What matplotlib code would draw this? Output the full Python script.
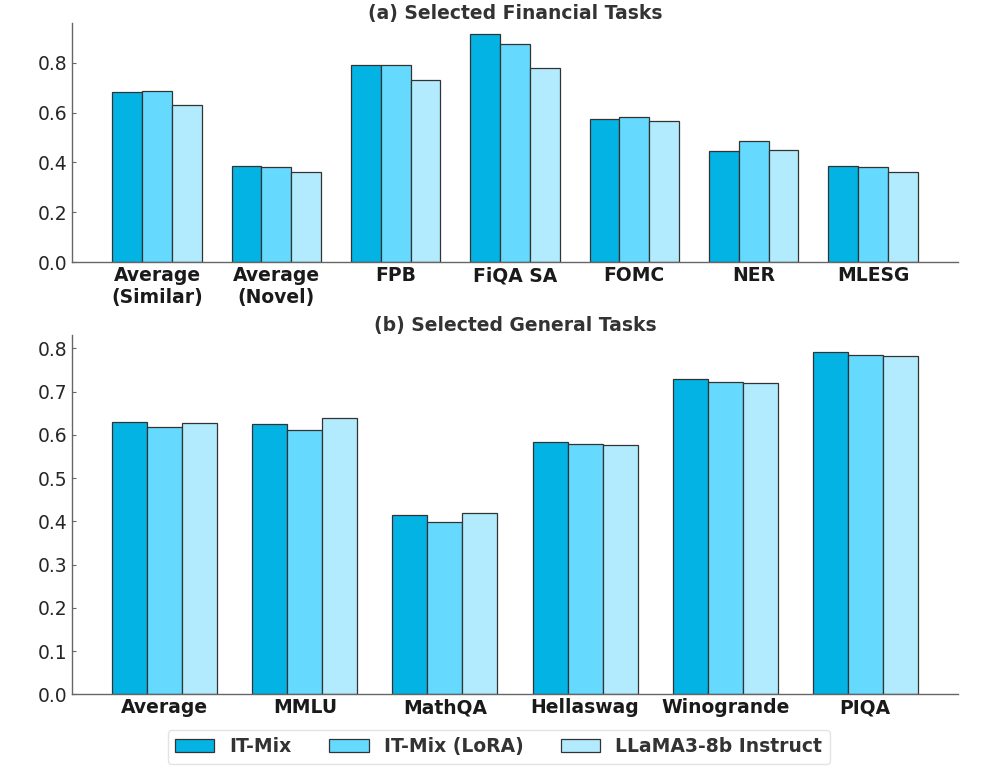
import matplotlib
matplotlib.use("Agg")
import matplotlib.pyplot as plt
import numpy as np

fin_tasks = ["Average\n(Similar)", "Average\n(Novel)", "FPB", "FiQA SA", "FOMC", "NER", "MLESG"]
fin_itmix = [0.682, 0.386, 0.792, 0.914, 0.575, 0.445, 0.386]
fin_lora = [0.686, 0.381, 0.792, 0.876, 0.583, 0.485, 0.381]
fin_llama = [0.630, 0.363, 0.730, 0.778, 0.565, 0.449, 0.363]

gen_tasks = ["Average", "MMLU", "MathQA", "Hellaswag", "Winogrande", "PIQA"]
gen_itmix = [0.629, 0.626, 0.414, 0.583, 0.728, 0.791]
gen_lora = [0.619, 0.612, 0.398, 0.578, 0.721, 0.785]
gen_llama = [0.628, 0.639, 0.420, 0.576, 0.719, 0.783]

labels = ["IT-Mix", "IT-Mix (LoRA)", "LLaMA3-8b Instruct"]
colors = ["#02B3E4", "#66D9FE", "#B3EBFE"]

fig = plt.figure(figsize=(9.97, 7.7), dpi=100)
ax1 = fig.add_axes([0.0722, 0.6597, 0.8887, 0.3104])
ax2 = fig.add_axes([0.0722, 0.0983, 0.8887, 0.4666])

w = 0.25


def draw(ax, tasks, series, title, yticks):
    x = np.arange(len(tasks))
    bars = []
    for i, vals in enumerate(series):
        b = ax.bar(x + (i - 1) * w, vals, w, color=colors[i], edgecolor="#333333",
                   linewidth=0.9, label=labels[i])
        bars.append(b)
    ax.set_xticks(x)
    ax.set_xticklabels(tasks, fontsize=13.5, fontweight="bold", color="#1a1a1a")
    ax.set_yticks(yticks)
    ax.set_yticklabels(["%.1f" % t for t in yticks], fontsize=13.5, color="#262626")
    ax.set_ylim(0, max(max(s) for s in series) * 1.05)
    ax.set_title(title, fontsize=13.5, fontweight="bold", color="#333333", pad=3)
    ax.spines["top"].set_visible(False)
    ax.spines["right"].set_visible(False)
    for s in ["left", "bottom"]:
        ax.spines[s].set_color("#666666")
        ax.spines[s].set_linewidth(1.0)
    ax.tick_params(axis="x", length=0, pad=3)
    ax.tick_params(axis="y", direction="in", length=3, color="#666666", pad=3)
    return bars


draw(ax1, fin_tasks, [fin_itmix, fin_lora, fin_llama], "(a) Selected Financial Tasks",
     [0.0, 0.2, 0.4, 0.6, 0.8])
bars = draw(ax2, gen_tasks, [gen_itmix, gen_lora, gen_llama], "(b) Selected General Tasks",
            [0.0, 0.1, 0.2, 0.3, 0.4, 0.5, 0.6, 0.7, 0.8])

leg = fig.legend(bars, labels, loc="center", bbox_to_anchor=(0.5, 0.030), ncol=3,
                 prop={"size": 13.5, "weight": "bold"}, frameon=True, fancybox=True,
                 handlelength=2.1, columnspacing=2.0)
for t in leg.get_texts():
    t.set_color("#333333")
leg.get_frame().set_edgecolor("#dddddd")

fig.savefig("out.png", dpi=100)
